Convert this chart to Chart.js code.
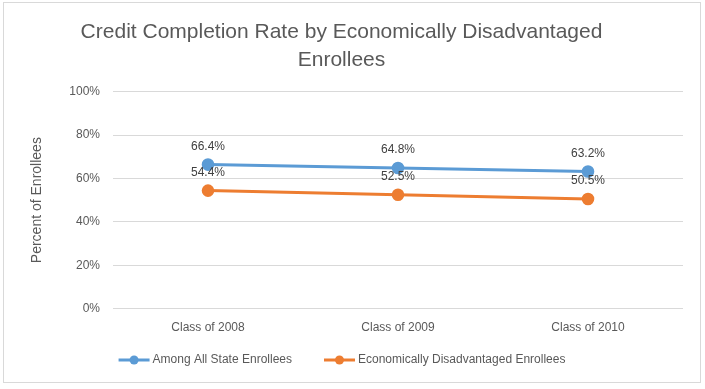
<!DOCTYPE html>
<html>
<head>
<meta charset="utf-8">
<script src="https://cdn.jsdelivr.net/npm/chart.js@4"></script>
<style>
  html, body { margin: 0; padding: 0; background: #fff; }
  #wrap { position: absolute; left: 0; top: 0; width: 705px; height: 389px; }
</style>
</head>
<body>
<div id="wrap"><canvas id="chart" width="705" height="389"></canvas></div>
<script>
// data
const categories = ['Class of 2008', 'Class of 2009', 'Class of 2010'];
const allState = [66.4, 64.8, 63.2];
const econDisadv = [54.4, 52.5, 50.5];
const seriesNames = ['Among All State Enrollees', 'Economically Disadvantaged Enrollees'];
const yTicks = [0, 20, 40, 60, 80, 100];

const BLUE = '#5B9BD5';
const ORANGE = '#ED7D31';
const FONT = "'Liberation Sans', Arial, sans-serif";

// outer border of the chart
const borderPlugin = {
    id: 'border',
    beforeDraw(chart) {
        const c = chart.ctx;
        c.save();
        c.fillStyle = '#fff';
        c.fillRect(0, 0, chart.width, chart.height);
        c.strokeStyle = '#d9d9d9';
        c.lineWidth = 1;
        c.strokeRect(3.5, 2.5, 697, 380);
        c.restore();
    }
};

// value labels above points
const valueLabels = {
    id: 'valueLabels',
    afterDatasetsDraw(chart) {
        const c = chart.ctx;
        c.save();
        c.font = '12px ' + FONT;
        c.fillStyle = '#404040';
        c.textAlign = 'center';
        c.textBaseline = 'middle';
        chart.data.datasets.forEach((ds, i) => {
            chart.getDatasetMeta(i).data.forEach((pt, j) => {
                c.fillText(ds.data[j].toFixed(1) + '%', pt.x, pt.y - 18);
            });
        });
        c.restore();
    }
};

// legend: line + dot, drawn under the axis labels
const lineLegend = {
    id: 'lineLegend',
    afterDraw(chart) {
        const c = chart.ctx;
        const y = 360;
        const gap = 32, sym = 31, textGap = 3;
        c.save();
        c.font = '12px ' + FONT;
        c.textBaseline = 'middle';
        c.textAlign = 'left';
        const items = chart.data.datasets.map(ds => ({
            label: ds.label, color: ds.borderColor, w: c.measureText(ds.label).width
        }));
        let total = items.reduce((s, it) => s + sym + textGap + it.w, 0) + gap * (items.length - 1);
        let x = 342 - total / 2;
        items.forEach(it => {
            c.strokeStyle = it.color;
            c.lineWidth = 3;
            c.beginPath();
            c.moveTo(x, y);
            c.lineTo(x + sym, y);
            c.stroke();
            c.fillStyle = it.color;
            c.beginPath();
            c.arc(x + sym / 2, y, 4.5, 0, Math.PI * 2);
            c.fill();
            c.fillStyle = '#595959';
            c.fillText(it.label, x + sym + textGap, y);
            x += sym + textGap + it.w + gap;
        });
        c.restore();
    }
};

new Chart(document.getElementById('chart'), {
    type: 'line',
    data: {
        labels: categories,
        datasets: [
            {
                label: seriesNames[0],
                data: allState,
                borderColor: BLUE,
                backgroundColor: BLUE,
                borderWidth: 3,
                pointRadius: 4.8,
                pointHoverRadius: 4.8
            },
            {
                label: seriesNames[1],
                data: econDisadv,
                borderColor: ORANGE,
                backgroundColor: ORANGE,
                borderWidth: 3,
                pointRadius: 4.8,
                pointHoverRadius: 4.8
            }
        ]
    },
    options: {
        responsive: false,
        animation: false,
        layout: { padding: { left: 0, right: 22, top: 0, bottom: 42 } },
        plugins: {
            title: {
                display: true,
                text: ['Credit Completion Rate by Economically Disadvantaged', 'Enrollees'],
                color: '#595959',
                font: { family: FONT, size: 21, weight: 'normal', lineHeight: 1.35 },
                padding: { top: 18, bottom: 17 }
            },
            legend: { display: false },
            tooltip: { enabled: false }
        },
        scales: {
            x: {
                offset: true,
                grid: { display: false, drawTicks: false },
                border: { display: false },
                ticks: { color: '#595959', font: { family: FONT, size: 12 }, padding: 12 }
            },
            y: {
                min: 0,
                max: 100,
                afterBuildTicks(scale) {
                    scale.ticks = yTicks.map(v => ({ value: v }));
                },
                afterFit(scale) { scale.width = 113; },
                grid: { color: '#d9d9d9', drawTicks: false },
                border: { display: false },
                ticks: {
                    color: '#595959',
                    font: { family: FONT, size: 12 },
                    padding: 13,
                    callback: v => v + '%'
                },
                title: {
                    display: true,
                    text: 'Percent of Enrollees',
                    color: '#595959',
                    font: { family: FONT, size: 14 },
                    padding: { top: 29, bottom: 0 }
                }
            }
        }
    },
    plugins: [borderPlugin, valueLabels, lineLegend]
});
</script>
</body>
</html>
